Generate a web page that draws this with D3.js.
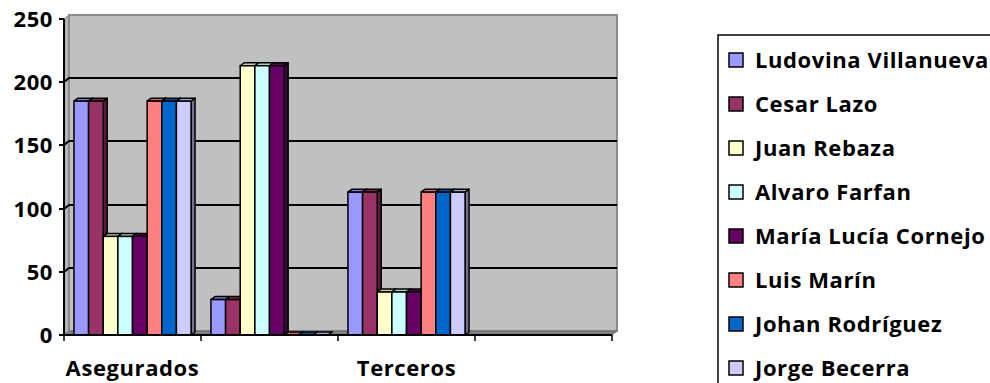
<!DOCTYPE html>
<html>
<head>
<meta charset="utf-8">
<script src="https://cdn.jsdelivr.net/npm/d3@7"></script>
<style>
  body { margin: 0; background: #fff; }
  text { font-family: "Open Sans", Lato, sans-serif; font-weight: bold; fill: #000; letter-spacing: 0.6px; }
</style>
</head>
<body>
<div id="chart"></div>
<script>
// categories on the x axis (Excel only printed every other label)
var categories = ["Asegurados", "", "Terceros", ""];
var seriesNames = ["Ludovina Villanueva", "Cesar Lazo", "Juan Rebaza", "Alvaro Farfan",
                   "María Lucía Cornejo", "Luis Marín", "Johan Rodríguez", "Jorge Becerra"];
var seriesColors = ["#9999ff", "#993366", "#ffffcc", "#ccffff",
                    "#660066", "#ff8080", "#0066cc", "#ccccff"];
// one value per series, per category
var asegurados = [185, 185, 78, 78, 78, 185, 185, 185];
var grupo2     = [28, 28, 213, 213, 213, 0, 0, 0];
var terceros   = [113, 113, 34, 34, 34, 113, 113, 113];
var grupo4     = [];
var yTicks = [0, 50, 100, 150, 200, 250];

var values = [asegurados, grupo2, terceros, grupo4];

var width = 990, height = 383;
var plotLeft = 64, plotRight = 612, plotTop = 19, plotBottom = 335;
var depth = {dx: 5, dy: -4};     // wall depth
var bd = {dx: 4, dy: -3};        // bar depth

var svg = d3.select("#chart").append("svg")
    .attr("width", width)
    .attr("height", height);

var x = d3.scaleBand()
    .domain(d3.range(categories.length))
    .range([plotLeft, plotRight]);

var xs = d3.scaleBand()
    .domain(d3.range(seriesNames.length))
    .range([0, x.bandwidth()])
    .paddingOuter(0.68);

var y = d3.scaleLinear()
    .domain([0, 250])
    .range([plotBottom, plotTop]);

// left wall
svg.append("path")
    .attr("d", "M" + plotLeft + "," + plotTop + "L" + (plotLeft + depth.dx) + "," + (plotTop + depth.dy) +
        "L" + (plotLeft + depth.dx) + "," + (plotBottom + depth.dy) + "L" + plotLeft + "," + plotBottom + "Z")
    .attr("fill", "#b4b4b4")
    .attr("stroke", "#8c8c8c");

// back wall
svg.append("rect")
    .attr("x", plotLeft + depth.dx)
    .attr("y", plotTop + depth.dy)
    .attr("width", plotRight - plotLeft)
    .attr("height", plotBottom - plotTop)
    .attr("fill", "#c0c0c0")
    .attr("stroke", "#8c8c8c")
    .attr("stroke-width", 2);

// floor
svg.append("path")
    .attr("d", "M" + plotLeft + "," + plotBottom + "L" + (plotLeft + depth.dx) + "," + (plotBottom + depth.dy) +
        "L" + (plotRight + depth.dx) + "," + (plotBottom + depth.dy) + "L" + plotRight + "," + plotBottom + "Z")
    .attr("fill", "#808080")
    .attr("stroke", "#6e6e6e");

// gridlines on the back wall, with the little diagonal on the side wall
svg.append("g").selectAll("path")
    .data(yTicks.filter(function (d) { return d > 0 && d < 250; }))
    .enter().append("path")
    .attr("d", function (d) {
        var yy = Math.round(y(d));
        return "M" + plotLeft + "," + yy + "L" + (plotLeft + depth.dx) + "," + (yy + depth.dy) +
            "L" + (plotRight + depth.dx) + "," + (yy + depth.dy);
    })
    .attr("fill", "none")
    .attr("stroke", "#000")
    .attr("stroke-width", 2);

// bars
var bars = [];
values.forEach(function (arr, ci) {
    arr.forEach(function (v, si) {
        bars.push({c: ci, s: si, v: v});
    });
});

var bar = svg.append("g").selectAll("g")
    .data(bars)
    .enter().append("g");

function pts(p) {
    return p.map(function (q) { return q.join(","); }).join(" ");
}

bar.each(function (d) {
    var g = d3.select(this);
    var x0 = x(d.c) + xs(d.s), w = xs.bandwidth();
    var yt = y(d.v), y0 = y(0);
    var col = d3.color(seriesColors[d.s]);
    g.append("polygon")
        .attr("points", pts([[x0 + w, yt], [x0 + w + bd.dx, yt + bd.dy],
            [x0 + w + bd.dx, y0 + bd.dy], [x0 + w, y0]]))
        .attr("fill", col.darker(1.6))
        .attr("stroke", "#000")
        .attr("stroke-width", 1.5)
        .attr("stroke-linejoin", "round");
    g.append("polygon")
        .attr("points", pts([[x0, yt], [x0 + bd.dx, yt + bd.dy],
            [x0 + w + bd.dx, yt + bd.dy], [x0 + w, yt]]))
        .attr("fill", col.darker(0.6))
        .attr("stroke", "#000")
        .attr("stroke-width", 1.5)
        .attr("stroke-linejoin", "round");
    g.append("rect")
        .attr("x", x0)
        .attr("y", yt)
        .attr("width", w)
        .attr("height", y0 - yt)
        .attr("fill", col)
        .attr("stroke", "#000")
        .attr("stroke-width", 1.5);
});

// y axis
svg.append("line")
    .attr("x1", plotLeft).attr("x2", plotLeft)
    .attr("y1", plotTop).attr("y2", plotBottom)
    .attr("stroke", "#000").attr("stroke-width", 2);

var yt = svg.append("g").selectAll("g")
    .data(yTicks)
    .enter().append("g");
yt.append("line")
    .attr("x1", plotLeft - 5).attr("x2", plotLeft)
    .attr("y1", function (d) { return Math.round(y(d)); })
    .attr("y2", function (d) { return Math.round(y(d)); })
    .attr("stroke", "#000").attr("stroke-width", 2);
yt.append("text")
    .attr("x", 53)
    .attr("y", function (d) { return y(d); })
    .attr("dy", "0.36em")
    .attr("text-anchor", "end")
    .style("font-size", "22px")
    .text(function (d) { return d; });

// x axis
svg.append("line")
    .attr("x1", plotLeft).attr("x2", plotRight)
    .attr("y1", plotBottom).attr("y2", plotBottom)
    .attr("stroke", "#000").attr("stroke-width", 2);

svg.append("g").selectAll("line")
    .data(d3.range(categories.length + 1))
    .enter().append("line")
    .attr("x1", function (d) { return plotLeft + d * x.step(); })
    .attr("x2", function (d) { return plotLeft + d * x.step(); })
    .attr("y1", plotBottom)
    .attr("y2", plotBottom + 6)
    .attr("stroke", "#000").attr("stroke-width", 1.5);

svg.append("g").selectAll("text")
    .data(categories)
    .enter().append("text")
    .attr("x", function (d, i) { return x(i) + x.bandwidth() / 2; })
    .attr("y", 376)
    .attr("text-anchor", "middle")
    .style("font-size", "22px")
    .text(function (d) { return d; });

// legend
var legend = svg.append("g");
legend.append("rect")
    .attr("x", 718)
    .attr("y", 35)
    .attr("width", 320)
    .attr("height", 400)
    .attr("fill", "none")
    .attr("stroke", "#000")
    .attr("stroke-width", 1.5);

var item = legend.selectAll("g.item")
    .data(seriesNames)
    .enter().append("g")
    .attr("class", "item")
    .attr("transform", function (d, i) { return "translate(0," + (60 + i * 44) + ")"; });
item.append("rect")
    .attr("x", 729)
    .attr("y", -7)
    .attr("width", 14)
    .attr("height", 14)
    .attr("fill", function (d, i) { return seriesColors[i]; })
    .attr("stroke", "#000")
    .attr("stroke-width", 1.5);
item.append("text")
    .attr("x", 755)
    .attr("dy", "0.36em")
    .style("font-size", "22px")
    .text(function (d) { return d; });
</script>
</body>
</html>
